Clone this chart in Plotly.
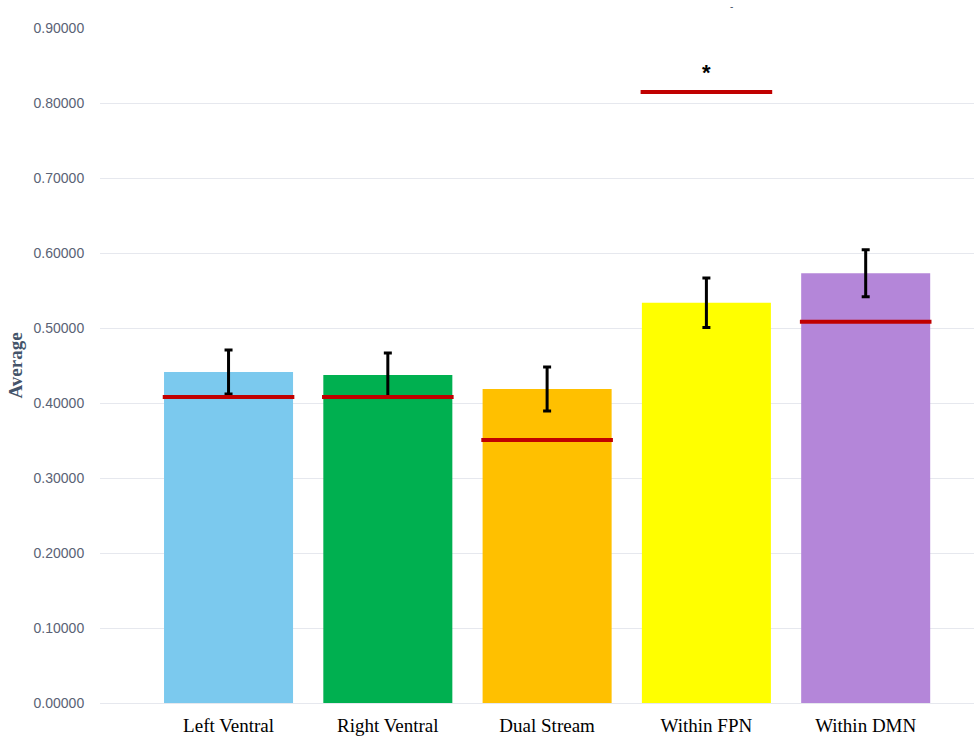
import plotly.graph_objects as go

categories = ["Left Ventral", "Right Ventral", "Dual Stream", "Within FPN", "Within DMN"]
averages = [0.4413, 0.4373, 0.4187, 0.5337, 0.5730]
errors = [0.0293, 0.0293, 0.0293, 0.0330, 0.0313]
reference = [0.4080, 0.4080, 0.3507, 0.8147, 0.5085]
bar_colors = ["#7BC9EE", "#00B050", "#FFC000", "#FFFF00", "#B486D9"]
y_ticks = [0.0, 0.1, 0.2, 0.3, 0.4, 0.5, 0.6, 0.7, 0.8, 0.9]

fig = go.Figure()
fig.add_trace(go.Bar(
    x=categories, y=averages,
    marker=dict(color=bar_colors, line=dict(width=0)),
    width=0.81,
    error_y=dict(type="data", array=errors, visible=True, color="black", thickness=3, width=4),
    showlegend=False,
))
fig.add_trace(go.Scatter(
    x=categories, y=reference, mode="markers",
    marker=dict(symbol="line-ew", size=94, line=dict(color="#C00000", width=4)),
    showlegend=False,
))
fig.add_annotation(x="Within FPN", y=reference[3], text="<b>*</b>", showarrow=False,
                   yshift=19, font=dict(family="Liberation Sans", size=22, color="black"))
fig.add_annotation(xref="paper", yref="paper", x=0.727, y=1.043, text="-", showarrow=False,
                   font=dict(family="Liberation Sans", size=10, color="#44546A"))

fig.update_layout(
    width=974, height=736,
    margin=dict(l=100, r=0, t=28, b=33),
    plot_bgcolor="white", paper_bgcolor="white",
    xaxis=dict(range=[-0.807, 4.68], showgrid=False, showline=False, zeroline=False,
               tickfont=dict(family="Liberation Serif", size=19, color="black"),
               ticks="outside", ticklen=5, tickcolor="rgba(0,0,0,0)"),
    yaxis=dict(range=[0, 0.9], tickvals=y_ticks, tickformat=".5f",
               showgrid=True, gridcolor="#E6E8EE", gridwidth=1,
               zeroline=True, zerolinecolor="#E6E8EE", zerolinewidth=1,
               showline=False,
               tickfont=dict(family="Liberation Sans", size=14, color="#5A6275"),
               ticks="outside", ticklen=12, tickcolor="rgba(0,0,0,0)",
               title=dict(text="<b>Average</b>", standoff=5,
                          font=dict(family="Liberation Serif", size=19, color="#44546A"))),
)
fig.write_html("out.html")
